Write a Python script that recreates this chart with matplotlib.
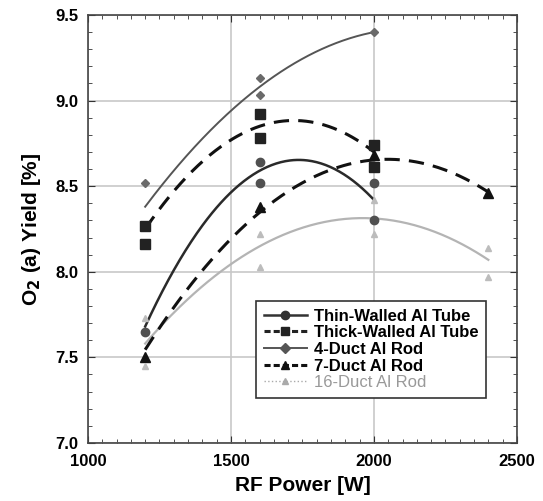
#O2(a) yield vs RF power for different electrode geometries
import numpy as np
import matplotlib.pyplot as plt
from matplotlib.ticker import MultipleLocator

plt.rcParams['font.family'] = ['Liberation Sans', 'DejaVu Sans']

#measured points (x = RF power, y = yield %)
thin_x = [1200, 1600, 1600, 2000, 2000]
thin_y = [7.65, 8.64, 8.52, 8.52, 8.30]
thick_x = [1200, 1200, 1600, 1600, 2000, 2000]
thick_y = [8.27, 8.16, 8.92, 8.78, 8.74, 8.61]
duct4_x = [1200, 1600, 1600, 2000]
duct4_y = [8.52, 9.13, 9.03, 9.40]
duct7_x = [1200, 1600, 2000, 2400]
duct7_y = [7.50, 8.38, 8.68, 8.46]
duct16_x = [1200, 1200, 1600, 1600, 2000, 2000, 2400, 2400]
duct16_y = [7.73, 7.45, 8.22, 8.03, 8.42, 8.22, 8.14, 7.97]

#trend line values
thin_tx = [1200, 1600, 2000]
thin_ty = [7.68, 8.59, 8.42]
thick_tx = [1200, 1600, 2000]
thick_ty = [8.25, 8.85, 8.70]
duct4_tx = [1200, 1600, 2000]
duct4_ty = [8.38, 9.08, 9.40]
duct7_tx = [1200, 1600, 2000, 2400]
duct7_ty = [7.55, 8.33, 8.67, 8.46]
duct16_tx = [1200, 1600, 2000, 2400]
duct16_ty = [7.58, 8.15, 8.31, 8.07]

fig = plt.figure(figsize=(5.43, 5.01), dpi=100)
ax = fig.add_axes([0.162, 0.116, 0.790, 0.854])

def trend(tx, ty, color, ls, lw):
    c = np.polyfit(tx, ty, 2)
    xs = np.linspace(min(tx), max(tx), 200)
    ax.plot(xs, np.polyval(c, xs), color=color, linestyle=ls, linewidth=lw)

trend(duct16_tx, duct16_ty, '#b4b4b4', '-', 1.6)
trend(duct4_tx, duct4_ty, '#555555', '-', 1.4)
trend(thin_tx, thin_ty, '#2a2a2a', '-', 1.8)
trend(thick_tx, thick_ty, '#111111', (0, (5, 3)), 2.2)
trend(duct7_tx, duct7_ty, '#111111', (0, (5, 3)), 2.2)

#markers
ax.plot(thin_x, thin_y, 'o', color='#505050', markersize=6, linestyle='none')
ax.plot(thick_x, thick_y, 's', color='#222222', markersize=7, linestyle='none')
ax.plot(duct4_x, duct4_y, 'D', color='#6a6a6a', markersize=4.5, linestyle='none')
ax.plot(duct7_x, duct7_y, '^', color='#111111', markersize=7, linestyle='none')
ax.plot(duct16_x, duct16_y, '^', color='#bcbcbc', markersize=5, linestyle='none')

#legend handles
l1, = ax.plot([], [], marker='o', color='#333333', markersize=6, linewidth=1.8)
l2, = ax.plot([], [], marker='s', color='#222222', markersize=6, linewidth=2.2, linestyle=(0, (2, 1)))
l3, = ax.plot([], [], marker='D', color='#555555', markersize=5, linewidth=1.4)
l4, = ax.plot([], [], marker='^', color='#111111', markersize=6, linewidth=2.2, linestyle=(0, (2, 1)))
l5, = ax.plot([], [], marker='^', color='#aaaaaa', markersize=5, linewidth=1.0, linestyle=':')

leg = ax.legend([l1, l2, l3, l4, l5],
                ['Thin-Walled Al Tube', 'Thick-Walled Al Tube', '4-Duct Al Rod',
                 '7-Duct Al Rod', '16-Duct Al Rod'],
                loc='lower left', bbox_to_anchor=(0.373, 0.086), fancybox=False,
                framealpha=1, edgecolor='#333333', fontsize=12, handlelength=2.6,
                borderpad=0.45, labelspacing=0.1, handletextpad=0.4)
leg.get_frame().set_linewidth(1.2)
for i, t in enumerate(leg.get_texts()):
    if i < 4:
        t.set_fontweight('bold')
    else:
        t.set_color('#999999')

ax.set_xlim(1000, 2500)
ax.set_ylim(7.0, 9.5)
ax.xaxis.set_major_locator(MultipleLocator(500))
ax.xaxis.set_minor_locator(MultipleLocator(50))
ax.yaxis.set_major_locator(MultipleLocator(0.5))
ax.yaxis.set_minor_locator(MultipleLocator(0.1))
ax.grid(True, which='major', color='#c8c8c8', linewidth=1.2)
ax.set_axisbelow(True)
ax.tick_params(which='both', direction='in', top=True, right=True, colors='#333333')
ax.tick_params(which='major', length=5, labelsize=12, labelcolor='black')
ax.tick_params(axis='x', which='major', pad=8)
ax.tick_params(axis='y', which='major', pad=7)
ax.tick_params(which='minor', length=3)
ax.set_xticks([1000, 1500, 2000, 2500])
ax.set_xticklabels(['1000', '1500', '2000', '2500'], fontweight='bold')
ax.set_yticks([7.0, 7.5, 8.0, 8.5, 9.0, 9.5])
ax.set_yticklabels(['7.0', '7.5', '8.0', '8.5', '9.0', '9.5'], fontweight='bold')
for s in ax.spines.values():
    s.set_color('#444444')
    s.set_linewidth(1.2)

ax.set_xlabel('RF Power [W]', fontsize=15, fontweight='bold', labelpad=5)
ax.set_ylabel('O$_\\mathbf{2}$ (a) Yield [%]', fontsize=15, fontweight='bold', labelpad=9)

fig.savefig('out.png', dpi=100)
